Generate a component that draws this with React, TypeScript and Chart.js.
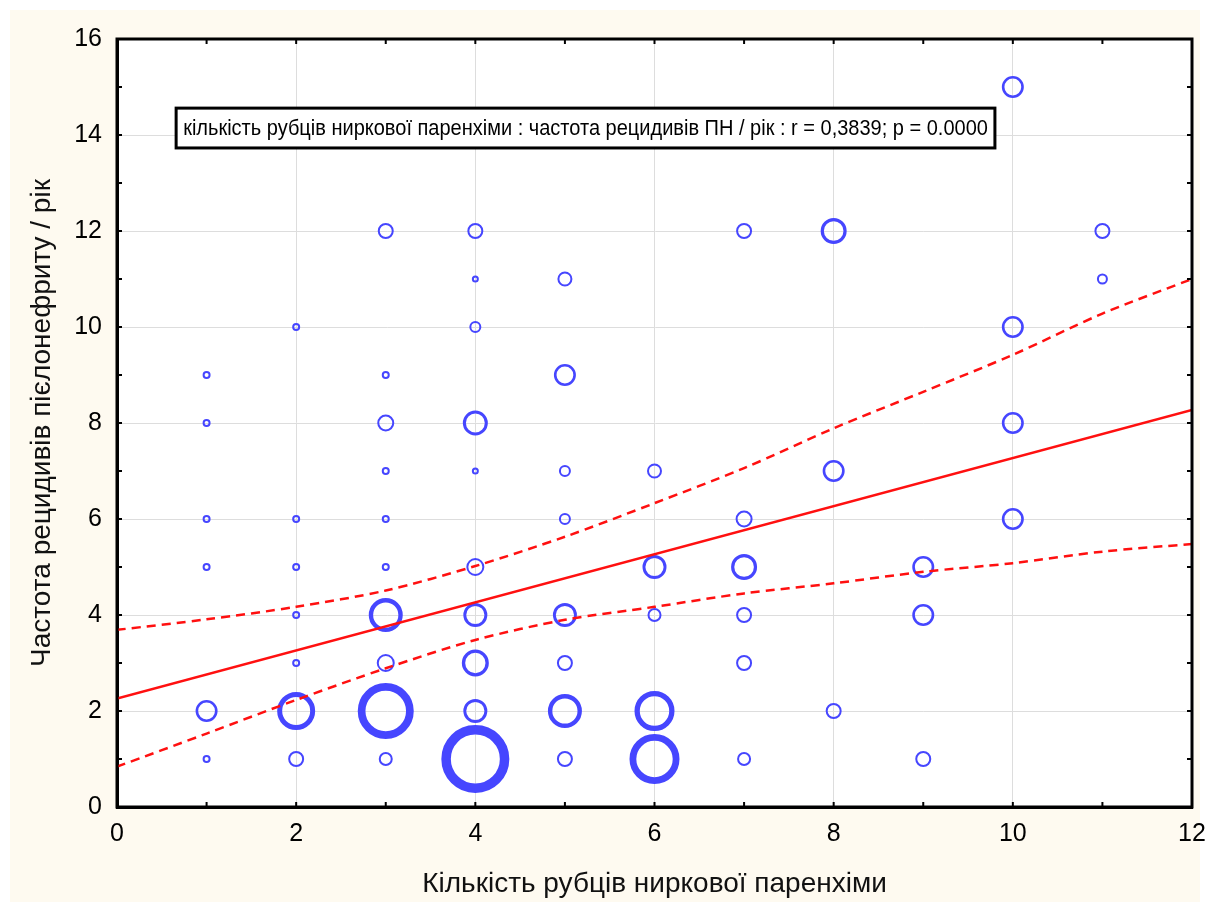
import React, { useEffect, useRef } from "react";
import { Chart, registerables } from "chart.js";
Chart.register(...registerables);

// Bubble plot data: x = number of scars, y = relapse frequency per year, size = bubble (outer) radius
const bubbleX = [
  1, 1, 1, 1, 1, 1,
  2, 2, 2, 2, 2, 2, 2,
  3, 3, 3, 3, 3, 3, 3, 3, 3, 3,
  4, 4, 4, 4, 4, 4, 4, 4, 4, 4,
  5, 5, 5, 5, 5, 5, 5, 5,
  6, 6, 6, 6, 6,
  7, 7, 7, 7, 7, 7,
  8, 8, 8,
  9, 9, 9,
  10, 10, 10, 10,
  11, 11,
];
const bubbleY = [
  9, 8, 6, 5, 2, 1,
  10, 6, 5, 4, 3, 2, 1,
  12, 9, 8, 7, 6, 5, 4, 3, 2, 1,
  12, 11, 10, 8, 7, 5, 4, 3, 2, 1,
  11, 9, 7, 6, 4, 3, 2, 1,
  7, 5, 4, 2, 1,
  12, 6, 5, 4, 3, 1,
  12, 7, 2,
  5, 4, 1,
  15, 10, 8, 6,
  12, 11,
];
const bubbleSize = [
  4, 4, 4, 4, 11, 4,
  4, 4, 4, 4, 4, 19, 8,
  8, 4, 8.5, 4, 4, 4, 17, 9, 28, 7,
  8, 3.5, 6, 12.5, 3.5, 9, 12, 13.5, 12, 34,
  7.5, 11, 6, 6, 12, 8, 17, 8,
  7.5, 12, 7, 20, 25,
  8, 8.5, 13, 8, 8, 7,
  13, 11, 8,
  11, 11, 8,
  11, 11, 11, 11,
  8, 5.5,
];

// Regression line
const fitX = [0, 12];
const fitY = [2.26, 8.27];

// 95% confidence bands
const bandX = [0, 1, 2, 3, 4, 5, 6, 7, 8, 9, 10, 11, 12];
const upperY = [3.69, 3.91, 4.17, 4.51, 5.02, 5.63, 6.33, 7.06, 7.89, 8.65, 9.42, 10.28, 11.0];
const lowerY = [0.84, 1.53, 2.23, 2.89, 3.48, 3.9, 4.17, 4.45, 4.66, 4.9, 5.08, 5.32, 5.48];

const xTitle = "Кількість рубців ниркової паренхіми";
const yTitle = "Частота рецидивів пієлонефриту / рік";
const legendText =
  "кількість рубців ниркової паренхіми : частота рецидивів ПН / рік : r = 0,3839; p = 0.0000";

const FONT = "'Liberation Sans', Arial, sans-serif";
const BLUE = "#4646FF";
const RED = "#FF1010";

const ringWidth = (r: number) => Math.max(2, 0.3 * r - 0.7);

export default function App() {
  const ref = useRef<HTMLCanvasElement | null>(null);

  useEffect(() => {
    if (!ref.current) return;

    const bgPlugin = {
      id: "bg",
      beforeDraw(chart: any) {
        const { ctx, chartArea, width, height } = chart;
        ctx.save();
        ctx.fillStyle = "#ffffff";
        ctx.fillRect(0, 0, width, height);
        ctx.fillStyle = "#FEFAF0";
        ctx.fillRect(10, 10, width - 19, height - 19);
        ctx.fillStyle = "#ffffff";
        ctx.fillRect(chartArea.left, chartArea.top, chartArea.right - chartArea.left, chartArea.bottom - chartArea.top);
        ctx.restore();
      },
      afterDraw(chart: any) {
        const { ctx, chartArea } = chart;
        const xs = chart.scales.x;
        const ys = chart.scales.y;
        ctx.save();
        // frame
        ctx.strokeStyle = "#000";
        ctx.lineWidth = 3;
        ctx.strokeRect(chartArea.left, chartArea.top, chartArea.right - chartArea.left, chartArea.bottom - chartArea.top);
        // inward tick marks on all four sides
        ctx.lineWidth = 2;
        const tl = 5;
        ctx.beginPath();
        for (let v = 0; v <= 12; v++) {
          const px = xs.getPixelForValue(v);
          ctx.moveTo(px, chartArea.bottom);
          ctx.lineTo(px, chartArea.bottom - tl);
          ctx.moveTo(px, chartArea.top);
          ctx.lineTo(px, chartArea.top + tl);
        }
        for (let v = 0; v <= 16; v++) {
          const py = ys.getPixelForValue(v);
          ctx.moveTo(chartArea.left, py);
          ctx.lineTo(chartArea.left + tl, py);
          ctx.moveTo(chartArea.right, py);
          ctx.lineTo(chartArea.right - tl, py);
        }
        ctx.stroke();

        // legend box
        const bl = xs.getPixelForValue(0.66);
        const br = xs.getPixelForValue(9.8);
        const bt = ys.getPixelForValue(14.56);
        const bb = ys.getPixelForValue(13.73);
        ctx.fillStyle = "#ffffff";
        ctx.fillRect(bl, bt, br - bl, bb - bt);
        ctx.lineWidth = 3;
        ctx.strokeStyle = "#000";
        ctx.strokeRect(bl, bt, br - bl, bb - bt);
        ctx.font = `22px ${FONT}`;
        ctx.fillStyle = "#000";
        ctx.textBaseline = "middle";
        ctx.textAlign = "left";
        const w = ctx.measureText(legendText).width;
        const target = br - bl - 14;
        const sx = target / w;
        ctx.translate(bl + 7, (bt + bb) / 2 + 1);
        ctx.scale(sx, 1);
        ctx.fillText(legendText, 0, 0);
        ctx.restore();
      },
    };

    const bubbles = bubbleX.map((x, i) => {
      const ro = bubbleSize[i];
      return { x, y: bubbleY[i], r: ro - ringWidth(ro) / 2 };
    });

    const chart = new Chart(ref.current, {
      type: "bubble",
      data: {
        datasets: [
          {
            type: "line",
            data: fitX.map((x, i) => ({ x, y: fitY[i] })),
            borderColor: RED,
            borderWidth: 2.5,
            pointRadius: 0,
            fill: false,
          } as any,
          {
            type: "line",
            data: bandX.map((x, i) => ({ x, y: upperY[i] })),
            borderColor: RED,
            borderWidth: 2.5,
            borderDash: [9, 6],
            pointRadius: 0,
            tension: 0.3,
            fill: false,
          } as any,
          {
            type: "line",
            data: bandX.map((x, i) => ({ x, y: lowerY[i] })),
            borderColor: RED,
            borderWidth: 2.5,
            borderDash: [9, 6],
            pointRadius: 0,
            tension: 0.3,
            fill: false,
          } as any,
          {
            type: "bubble",
            data: bubbles,
            borderColor: BLUE,
            backgroundColor: "rgba(0,0,0,0)",
            borderWidth: (c: any) => ringWidth(bubbleSize[c.dataIndex] ?? 4),
          } as any,
        ],
      },
      options: {
        responsive: false,
        animation: false,
        devicePixelRatio: 1,
        events: [],
        layout: { autoPadding: false, padding: { left: 10, top: 39, right: 17, bottom: 10 } },
        plugins: { legend: { display: false }, tooltip: { enabled: false } },
        scales: {
          x: {
            type: "linear",
            min: 0,
            max: 12,
            afterFit: (s: any) => {
              s.height = 94;
              s.paddingLeft = 0;
              s.paddingRight = 0;
            },
            ticks: {
              stepSize: 1,
              autoSkip: false,
              maxRotation: 0,
              padding: 12,
              color: "#000",
              font: { family: FONT, size: 25 },
              callback: (v: any) => (Number(v) % 2 === 0 ? String(v) : ""),
            },
            grid: {
              drawTicks: false,
              lineWidth: 1,
              color: (c: any) => (c.tick && c.tick.value % 2 === 0 ? "#dddddd" : "rgba(0,0,0,0)"),
            },
            border: { display: true, color: "#000", width: 3 },
            title: {
              display: true,
              text: xTitle,
              color: "#111",
              font: { family: FONT, size: 28 },
              padding: { top: 0, bottom: 0 },
            },
          },
          y: {
            type: "linear",
            min: 0,
            max: 16,
            afterFit: (s: any) => {
              s.width = 107;
              s.paddingTop = 0;
              s.paddingBottom = 0;
            },
            ticks: {
              stepSize: 1,
              autoSkip: false,
              padding: 15,
              color: "#000",
              font: { family: FONT, size: 25 },
              callback: (v: any) => (Number(v) % 2 === 0 ? String(v) : ""),
            },
            grid: {
              drawTicks: false,
              lineWidth: 1,
              color: (c: any) => (c.tick && c.tick.value % 2 === 0 ? "#dddddd" : "rgba(0,0,0,0)"),
            },
            border: { display: true, color: "#000", width: 3 },
            title: {
              display: true,
              text: yTitle,
              color: "#111",
              font: { family: FONT, size: 28 },
              padding: { top: 15, bottom: 0 },
            },
          },
        },
      },
      plugins: [bgPlugin],
    } as any);

    return () => chart.destroy();
  }, []);

  return (
    <div style={{ position: "absolute", left: 0, top: 0, width: 1209, height: 911 }}>
      <canvas ref={ref} width={1209} height={911} style={{ display: "block" }} />
    </div>
  );
}
